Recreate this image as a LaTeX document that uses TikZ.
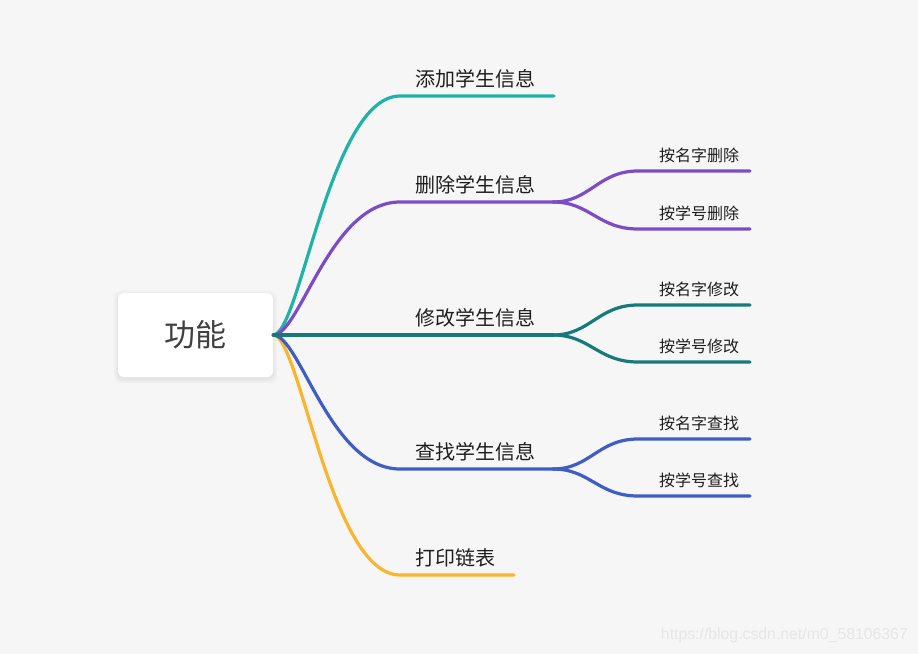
\documentclass[tikz,border=0pt]{standalone}
\usepackage{fontspec}
\setmainfont{Liberation Sans}
\newfontfamily\cjk{Noto Sans CJK SC}
\definecolor{bg}{HTML}{F6F6F6}
\definecolor{cA}{HTML}{1DB3A6}
\definecolor{cB}{HTML}{7A4CC6}
\definecolor{cC}{HTML}{167A7A}
\definecolor{cD}{HTML}{3F5EC5}
\definecolor{cE}{HTML}{FBB42C}
\definecolor{txt}{HTML}{1E1E1E}
\definecolor{wm}{HTML}{E6E6E6}
\begin{document}
\begin{tikzpicture}[x=1pt,y=-1pt,
  br/.style={line width=3.2pt, line cap=round},
  mainlbl/.style={font=\cjk\fontsize{20}{24}\selectfont, text=txt, anchor=base west, inner sep=0pt},
  sublbl/.style={font=\cjk\fontsize{16}{19}\selectfont, text=txt, anchor=base west, inner sep=0pt},
  rootbox/.style={fill=white, rounded corners=6pt, minimum width=155pt, minimum height=84pt, inner sep=0pt, text=txt!85, font=\cjk\fontsize{31}{36}\selectfont}]
\fill[bg] (0,0) rectangle (918,654);
\useasboundingbox (0,0) rectangle (918,654);
% soft shadow of root
\foreach \d/\o in {5/0.008,4/0.01,3/0.012,2/0.015,1/0.02}{
  \fill[black, opacity=\o, rounded corners=7pt] (118-\d,293-\d+2) rectangle (273+\d,377+\d+2);
}
\node[rootbox] (root) at (195.5,335) {功能};
% main branch coordinates
\coordinate (m1) at (400,96);  \coordinate (e1) at (554,96);
\coordinate (m2) at (400,202); \coordinate (e2) at (553,202);
\coordinate (e3) at (553,335);
\coordinate (m4) at (400,469); \coordinate (e4) at (553,469);
\coordinate (m5) at (400,575); \coordinate (e5) at (514,575);
% sub ends
\coordinate (s21) at (638,171); \coordinate (t21) at (750,171);
\coordinate (s22) at (638,229); \coordinate (t22) at (750,229);
\coordinate (s31) at (638,305); \coordinate (t31) at (750,305);
\coordinate (s32) at (638,362); \coordinate (t32) at (750,362);
\coordinate (s41) at (638,439); \coordinate (t41) at (750,439);
\coordinate (s42) at (638,496); \coordinate (t42) at (750,496);
% main branches
\draw[br,cE] (root.east) .. controls (300,335) and (330,575) .. (m5) -- (e5);
\draw[br,cD] (root.east) .. controls (300,335) and (330,469) .. (m4) -- (e4);
\draw[br,cA] (root.east) .. controls (300,335) and (330,96) .. (m1) -- (e1);
\draw[br,cB] (root.east) .. controls (300,335) and (330,202) .. (m2) -- (e2);
\draw[br,cC] (root.east) -- (e3);
% sub branches
\draw[br,cB] (e2) .. controls (590,202) and (598,171) .. (s21) -- (t21);
\draw[br,cB] (e2) .. controls (590,202) and (598,229) .. (s22) -- (t22);
\draw[br,cC] (e3) .. controls (590,335) and (598,305) .. (s31) -- (t31);
\draw[br,cC] (e3) .. controls (590,335) and (598,362) .. (s32) -- (t32);
\draw[br,cD] (e4) .. controls (590,469) and (598,439) .. (s41) -- (t41);
\draw[br,cD] (e4) .. controls (590,469) and (598,496) .. (s42) -- (t42);
% labels
\node[mainlbl] (l1) at (415,86) {添加学生信息};
\node[mainlbl] (l2) at (415,192) {删除学生信息};
\node[mainlbl] (l3) at (415,325) {修改学生信息};
\node[mainlbl] (l4) at (415,459) {查找学生信息};
\node[mainlbl] (l5) at (415,565) {打印链表};
\node[sublbl] (k21) at (659,161) {按名字删除};
\node[sublbl] (k22) at (659,219) {按学号删除};
\node[sublbl] (k31) at (659,295) {按名字修改};
\node[sublbl] (k32) at (659,352) {按学号修改};
\node[sublbl] (k41) at (659,429) {按名字查找};
\node[sublbl] (k42) at (659,486) {按学号查找};
% watermark
\node[anchor=base east, inner sep=0pt, text=wm, font=\fontsize{15.8}{18}\selectfont] (wmk) at (908,639) {https://blog.csdn.net/m0\_58106367};
\end{tikzpicture}
\end{document}
